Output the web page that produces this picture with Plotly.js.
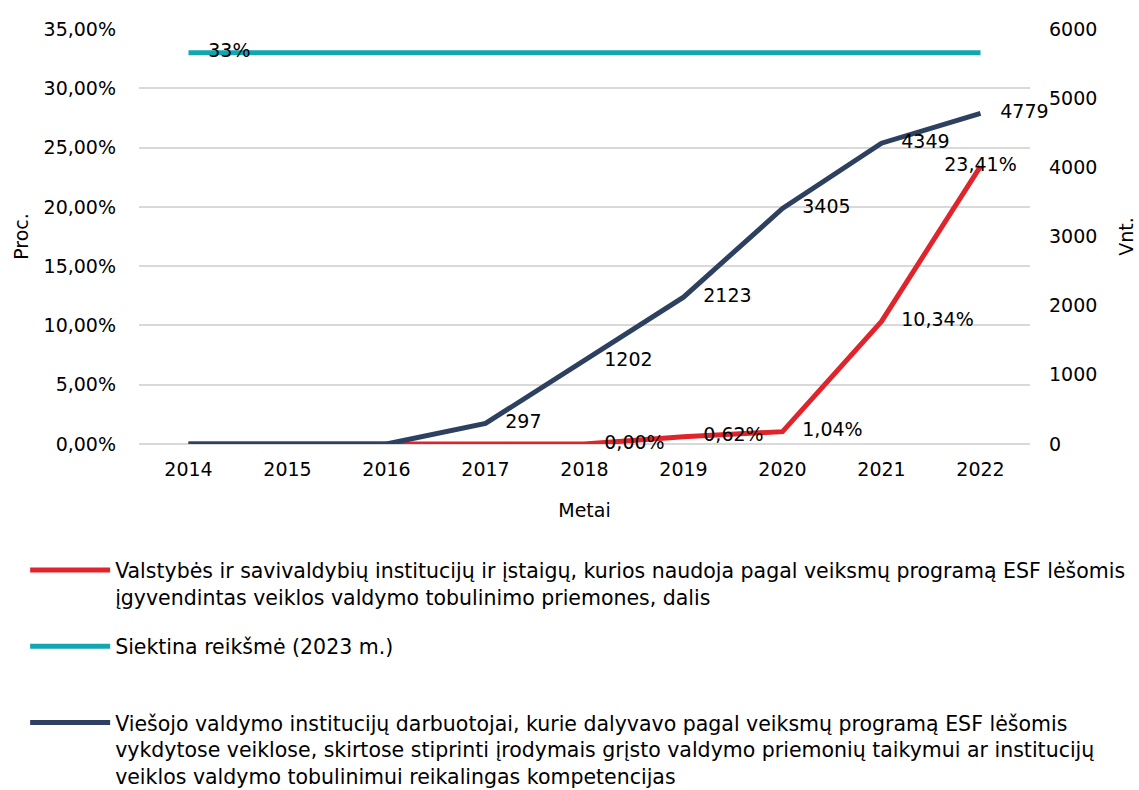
<!DOCTYPE html>
<html>
<head>
<meta charset="utf-8">
<script src="https://cdn.plot.ly/plotly-3.0.1.min.js"></script>
<style>html,body{margin:0;padding:0;background:#fff;}#chart{width:1139px;height:790px;}</style>
</head>
<body>
<div id="chart"></div>
<script>
const years = ['2014','2015','2016','2017','2018','2019','2020','2021','2022'];
const shareValues = [0, 0, 0, 0, 0, 0.62, 1.04, 10.34, 23.41];
const shareLabels = ['', '', '', '', '0,00%', '0,62%', '1,04%', '10,34%', '23,41%'];
const targetValues = [33, 33, 33, 33, 33, 33, 33, 33, 33];
const targetLabels = ['33%', '', '', '', '', '', '', '', ''];
const staffValues = [0, 0, 0, 297, 1202, 2123, 3405, 4349, 4779];
const staffLabels = ['', '', '', '297', '1202', '2123', '3405', '4349', '4779'];
const seriesNames = [
  'Valstybės ir savivaldybių institucijų ir įstaigų, kurios naudoja pagal veiksmų programą ESF lėšomis<br>įgyvendintas veiklos valdymo tobulinimo priemones, dalis',
  'Siektina reikšmė (2023 m.)<br>\u00a0',
  'Viešojo valdymo institucijų darbuotojai, kurie dalyvavo pagal veiksmų programą ESF lėšomis<br>vykdytose veiklose, skirtose stiprinti įrodymais grįsto valdymo priemonių taikymui ar institucijų<br>veiklos valdymo tobulinimui reikalingas kompetencijas'
];

const FONT = 'DejaVu Sans, sans-serif';
const FS = 19;
const txtFont = {family: FONT, size: FS, color: '#000'};
const ghost = {size: 30, color: 'rgba(0,0,0,0)', line: {width: 0}};

const traces = [
  {
    x: years, y: shareValues, text: shareLabels, name: seriesNames[0],
    type: 'scatter', mode: 'lines+markers+text', yaxis: 'y', legendgroup: 'a',
    line: {color: '#e0242c', width: 5}, marker: ghost,
    textposition: ['middle right','middle right','middle right','middle right','middle right','middle right','middle right','middle right','middle center'],
    textfont: txtFont, cliponaxis: false, hoverinfo: 'skip'
  },
  {
    x: years, y: targetValues, text: targetLabels, name: seriesNames[1],
    type: 'scatter', mode: 'lines+markers+text', yaxis: 'y', legendgroup: 'b',
    line: {color: '#12a6b0', width: 5}, marker: ghost,
    textposition: 'middle right', textfont: txtFont, cliponaxis: false, hoverinfo: 'skip'
  },
  {
    x: years, y: staffValues, text: staffLabels, name: seriesNames[2],
    type: 'scatter', mode: 'lines+markers+text', yaxis: 'y2', legendgroup: 'c',
    line: {color: '#2e4060', width: 5}, marker: ghost,
    textposition: 'middle right', textfont: txtFont, cliponaxis: false, hoverinfo: 'skip'
  }
];

const layout = {
  width: 1139, height: 790,
  margin: {l: 139, r: 109, t: 29, b: 346, autoexpand: false},
  paper_bgcolor: '#fff', plot_bgcolor: '#fff',
  separators: ',.',
  font: {family: FONT, size: FS, color: '#000'},
  showlegend: true,
  legend: {
    x: -0.1278, xanchor: 'left', y: -0.2558, yanchor: 'top',
    orientation: 'v', valign: 'top', traceorder: 'grouped',
    itemwidth: 80, itemsizing: 'constant',
    tracegroupgap: 20, font: {family: FONT, size: 20.5, color: '#000'},
    bgcolor: 'rgba(0,0,0,0)'
  },
  xaxis: {
    type: 'category', range: [-0.5, 8.5],
    showgrid: false, zeroline: false, showline: false, ticks: '',
    ticklabelstandoff: 12,
    tickfont: {family: FONT, size: FS, color: '#000'},
    title: {text: 'Metai', font: {family: FONT, size: FS, color: '#000'}, standoff: 24}
  },
  yaxis: {
    range: [0, 35], dtick: 5, tickformat: '.2f', ticksuffix: '%',
    showgrid: true, gridcolor: '#d9d9d9', gridwidth: 2,
    zeroline: true, zerolinecolor: '#d9d9d9', zerolinewidth: 2,
    showline: false, ticks: '', ticklabelstandoff: 22,
    tickfont: {family: FONT, size: FS, color: '#000'},
    title: {text: 'Proc.', font: {family: FONT, size: FS, color: '#000'}, standoff: 9}
  },
  yaxis2: {
    overlaying: 'y', side: 'right', range: [0, 6000], dtick: 1000,
    showgrid: false, zeroline: false, showline: false, ticks: '',
    ticklabelstandoff: 18,
    tickfont: {family: FONT, size: FS, color: '#000'},
    title: {text: 'Vnt.', font: {family: FONT, size: FS, color: '#000'}, standoff: 23}
  }
};

Plotly.newPlot('chart', traces, layout, {displayModeBar: false, staticPlot: true});
</script>
</body>
</html>
